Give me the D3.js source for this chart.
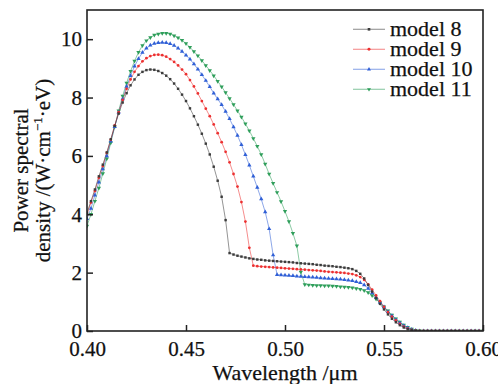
<!DOCTYPE html>
<html>
<head>
<meta charset="utf-8">
<script src="https://cdn.jsdelivr.net/npm/d3@7"></script>
<style>
  html, body { margin: 0; padding: 0; background: #fff; }
  svg { display: block; }
  text { font-family: "Liberation Serif", "Times New Roman", serif; fill: #111; stroke: #111; stroke-width: 0.25px; }
</style>
</head>
<body>
<svg id="chart" width="498" height="384"></svg>
<script>
// Wavelength grid (µm)
const wavelength = [
  0.400,0.402,0.404,0.406,0.408,0.410,0.412,0.414,0.416,0.418,
  0.420,0.422,0.424,0.426,0.428,0.430,0.432,0.434,0.436,0.438,
  0.440,0.442,0.444,0.446,0.448,0.450,0.452,0.454,0.456,0.458,
  0.460,0.462,0.464,0.466,0.468,0.470,0.472,0.474,0.476,0.478,
  0.480,0.482,0.484,0.486,0.488,0.490,0.492,0.494,0.496,0.498,
  0.500,0.502,0.504,0.506,0.508,0.510,0.512,0.514,0.516,0.518,
  0.520,0.522,0.524,0.526,0.528,0.530,0.532,0.534,0.536,0.538,
  0.540,0.542,0.544,0.546,0.548,0.550,0.552,0.554,0.556,0.558,
  0.560,0.562,0.564,0.566,0.568,0.570,0.572,0.574,0.576,0.578,
  0.580,0.582,0.584,0.586,0.588,0.590,0.592,0.594,0.596,0.598,
  0.600
];

const model8 = [
  4.05,4.45,4.85,5.3,5.7,6.12,6.57,7.03,7.45,7.83,
  8.15,8.42,8.62,8.78,8.88,8.94,8.96,8.95,8.91,8.84,
  8.75,8.63,8.48,8.3,8.1,7.88,7.63,7.36,7.07,6.76,
  6.42,6.05,5.63,5.15,4.6,3.8,2.67,2.62,2.58,2.55,
  2.52,2.49,2.47,2.45,2.44,2.42,2.41,2.4,2.39,2.38,
  2.37,2.36,2.35,2.33,2.32,2.31,2.3,2.29,2.27,2.26,
  2.24,2.23,2.22,2.2,2.19,2.17,2.15,2.12,2.06,1.96,
  1.8,1.58,1.35,1.13,0.93,0.74,0.57,0.42,0.3,0.2,
  0.12,0.06,0.03,0.01,0,0,0,0,0,0,
  0,0,0,0,0,0,0,0,0,0,
  0
];

const model9 = [
  4.0,4.4,4.8,5.25,5.65,6.1,6.55,7.05,7.5,7.92,
  8.3,8.62,8.88,9.08,9.24,9.35,9.42,9.46,9.47,9.45,
  9.4,9.32,9.22,9.1,8.96,8.8,8.6,8.38,8.14,7.88,
  7.62,7.36,7.08,6.78,6.47,6.14,5.78,5.38,4.95,4.42,
  3.75,2.85,2.24,2.22,2.21,2.2,2.19,2.18,2.17,2.16,
  2.15,2.14,2.13,2.12,2.11,2.1,2.09,2.08,2.07,2.06,
  2.04,2.03,2.02,2.01,2.0,1.99,1.97,1.95,1.91,1.85,
  1.75,1.6,1.42,1.22,1.02,0.83,0.65,0.49,0.36,0.24,
  0.15,0.08,0.04,0.01,0,0,0,0,0,0,
  0,0,0,0,0,0,0,0,0,0,
  0
];

const model10 = [
  3.85,4.2,4.65,5.1,5.55,6.0,6.5,7.0,7.5,7.95,
  8.38,8.75,9.07,9.33,9.54,9.69,9.79,9.85,9.88,9.89,
  9.88,9.84,9.78,9.69,9.58,9.45,9.31,9.15,8.97,8.78,
  8.58,8.37,8.15,7.95,7.75,7.52,7.27,6.99,6.7,6.38,
  6.04,5.68,5.3,4.92,4.52,4.08,3.5,2.6,1.93,1.92,
  1.91,1.9,1.89,1.88,1.87,1.86,1.85,1.84,1.83,1.82,
  1.81,1.8,1.79,1.78,1.77,1.76,1.74,1.72,1.69,1.65,
  1.58,1.46,1.3,1.14,0.98,0.82,0.66,0.52,0.39,0.28,
  0.18,0.11,0.05,0.02,0,0,0,0,0,0,
  0,0,0,0,0,0,0,0,0,0,
  0
];

const model11 = [
  3.6,4.0,4.45,4.9,5.4,5.9,6.45,7.0,7.55,8.05,
  8.5,8.9,9.25,9.55,9.78,9.95,10.06,10.14,10.18,10.2,
  10.2,10.18,10.12,10.05,9.96,9.85,9.72,9.58,9.43,9.27,
  9.1,8.93,8.75,8.56,8.37,8.17,7.97,7.76,7.55,7.33,
  7.1,6.86,6.6,6.33,6.05,5.72,5.38,5.06,4.75,4.44,
  4.1,3.75,3.35,2.92,2.02,1.59,1.58,1.57,1.56,1.56,
  1.55,1.55,1.54,1.53,1.52,1.51,1.5,1.48,1.46,1.43,
  1.39,1.32,1.22,1.1,0.97,0.83,0.69,0.55,0.42,0.31,
  0.21,0.13,0.07,0.03,0.01,0,0,0,0,0,
  0,0,0,0,0,0,0,0,0,0,
  0
];

const seriesNames = ["model 8", "model 9", "model 10", "model 11"];
const seriesValues = [model8, model9, model10, model11];
const seriesColors = ["#3c3c3c", "#ec3030", "#2f5fd6", "#2e9e5a"];
const seriesSymbols = [d3.symbolSquare, d3.symbolCircle, d3.symbolTriangle, d3.symbolTriangle];
const seriesRotate = [0, 0, 0, 180];

const xTicks = [0.40, 0.45, 0.50, 0.55, 0.60];
const yTicks = [0, 2, 4, 6, 8, 10];

const margin = { left: 87, right: 15, top: 10, bottom: 53 };
const W = 498, H = 384;
const svg = d3.select("#chart");

const x = d3.scaleLinear().domain([0.40, 0.60]).range([margin.left, W - margin.right]);
const y = d3.scaleLinear().domain([0, 11]).range([H - margin.bottom, margin.top]);

svg.append("clipPath").attr("id", "clip").append("rect")
  .attr("x", margin.left).attr("y", margin.top)
  .attr("width", W - margin.left - margin.right)
  .attr("height", H - margin.top - margin.bottom);

const plot = svg.append("g").attr("clip-path", "url(#clip)");

const line = d3.line().x((d, i) => x(wavelength[i])).y(d => y(d));

const order = [3, 2, 1, 0];
order.forEach(k => {
  plot.append("path")
    .datum(seriesValues[k])
    .attr("fill", "none")
    .attr("stroke", seriesColors[k])
    .attr("stroke-opacity", 0.55)
    .attr("stroke-width", 1)
    .attr("d", line);
});
order.forEach(k => {
  const sym = d3.symbol().type(seriesSymbols[k]).size(k < 2 ? 6 : 8);
  plot.append("g").selectAll("path")
    .data(seriesValues[k])
    .join("path")
    .attr("d", sym)
    .attr("fill", seriesColors[k])
    .attr("transform", (d, i) => `translate(${x(wavelength[i])},${y(d)}) rotate(${seriesRotate[k]})`);
});

// Axes
const xAxis = d3.axisBottom(x).tickValues(xTicks).tickFormat(d3.format(".2f"))
  .tickSizeInner(-6).tickSizeOuter(0).tickPadding(10);
const yAxis = d3.axisLeft(y).tickValues(yTicks).tickFormat(d3.format("d"))
  .tickSizeInner(-6).tickSizeOuter(0).tickPadding(5);

const gx = svg.append("g").attr("transform", `translate(0,${H - margin.bottom})`).call(xAxis);
const gy = svg.append("g").attr("transform", `translate(${margin.left},0)`).call(yAxis);
[gx, gy].forEach(g => {
  g.select(".domain").remove();
  g.selectAll(".tick line").attr("stroke", "#222").attr("stroke-width", 1.5);
  g.selectAll(".tick text").attr("font-size", 21).attr("fill", "#111")
    .style("font-family", '"Liberation Serif", serif');
});

// Frame
svg.append("rect")
  .attr("x", margin.left).attr("y", margin.top)
  .attr("width", W - margin.left - margin.right)
  .attr("height", H - margin.top - margin.bottom)
  .attr("fill", "none").attr("stroke", "#222").attr("stroke-width", 1.6);

// Axis titles
svg.append("text")
  .attr("x", (margin.left + W - margin.right) / 2)
  .attr("y", 380)
  .attr("text-anchor", "middle")
  .attr("font-size", 22)
  .text("Wavelength /\u03bcm");

const cy = (margin.top + H - margin.bottom) / 2;
svg.append("text")
  .attr("transform", `translate(28,${cy}) rotate(-90)`)
  .attr("text-anchor", "middle")
  .attr("font-size", 21)
  .text("Power spectral");

const t2 = svg.append("text")
  .attr("transform", `translate(50,${cy}) rotate(-90)`)
  .attr("text-anchor", "middle")
  .attr("font-size", 21);
t2.append("tspan").text("density /(W\u00b7cm");
t2.append("tspan").attr("font-size", 13).attr("dy", -8).text("\u22121");
t2.append("tspan").attr("dy", 8).text("\u00b7eV)");

// Legend
const legend = svg.append("g");
seriesNames.forEach((name, k) => {
  const ly = 29.3 + k * 20;
  legend.append("line")
    .attr("x1", 353).attr("x2", 385).attr("y1", ly).attr("y2", ly)
    .attr("stroke", seriesColors[k]).attr("stroke-opacity", 0.5).attr("stroke-width", 1.2);
  legend.append("path")
    .attr("d", d3.symbol().type(seriesSymbols[k]).size(7))
    .attr("fill", seriesColors[k])
    .attr("transform", `translate(369,${ly}) rotate(${seriesRotate[k]})`);
  legend.append("text")
    .attr("x", 390).attr("y", ly + 7)
    .attr("font-size", 22)
    .text(name);
});
</script>
</body>
</html>
